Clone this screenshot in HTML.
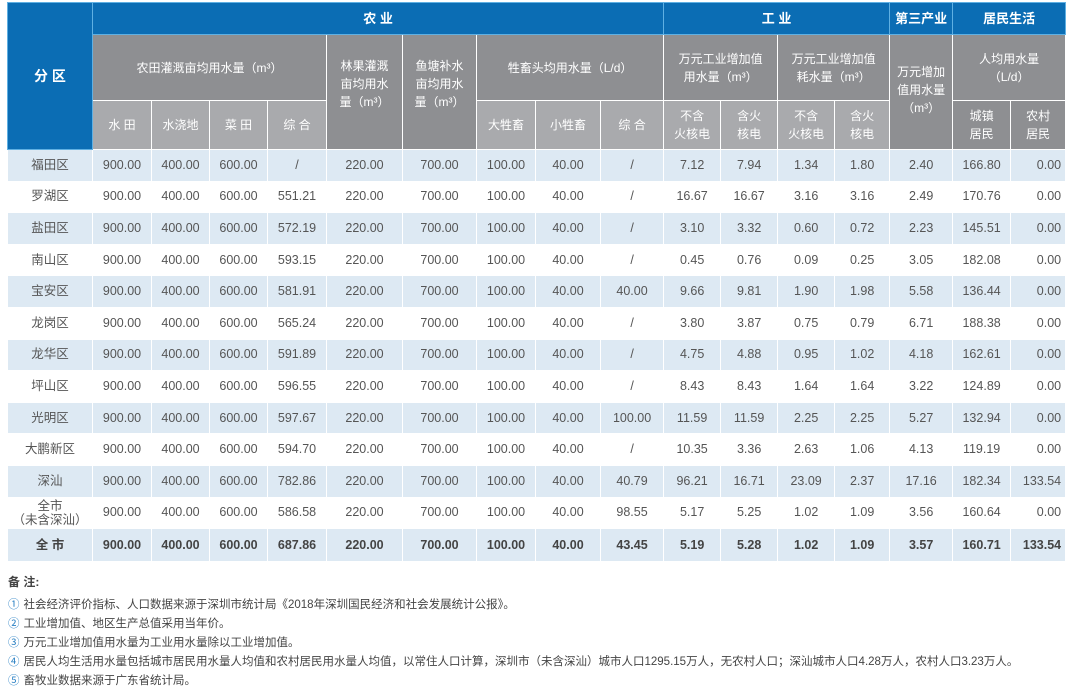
<!DOCTYPE html>
<html><head><meta charset="utf-8"><style>
body{margin:0;width:1080px;height:683px;background:#fff;overflow:hidden;font-family:"Liberation Sans","Noto Sans CJK SC",sans-serif;}
table{position:absolute;left:7px;top:2px;border-collapse:collapse;table-layout:fixed;width:1058px;}
td{padding:0;text-align:center;font-size:12.5px;color:#555;border:1px solid #fff;line-height:15px;}
.b{background:#0b6db4;color:#fff;font-weight:bold;font-size:13px;border-color:#5fb0e3;}
.d{background:#8e8f92;color:#fff;font-size:12px;line-height:18px;}
.l{background:#a9aaad;color:#fff;font-size:12px;line-height:18px;}
tr.h1{height:32px}tr.h2{height:66px}tr.h3{height:49px}
tr.r{height:31.6px}
tr.a td{background:#dde9f3;}
tr.t td{font-weight:bold;color:#444;}
td.rt{text-align:right;padding-right:4px}
.notes{position:absolute;left:8px;top:572px;font-size:11.5px;color:#444;}
.notes div{height:19px;line-height:19px;white-space:nowrap}
.notes .n{color:#2a80c4;margin-right:4px}
.notes .hd{font-weight:bold;font-size:12px;height:24px;line-height:20px}
</style></head><body>
<table>
<colgroup><col style="width:85px"><col style="width:59px"><col style="width:58px"><col style="width:58px"><col style="width:59px"><col style="width:76px"><col style="width:74px"><col style="width:59px"><col style="width:65px"><col style="width:63px"><col style="width:57px"><col style="width:57px"><col style="width:57px"><col style="width:55px"><col style="width:63px"><col style="width:58px"><col style="width:55px"></colgroup>
<tr class="h1"><td class="b" rowspan="3" style="font-size:14px">分 区</td><td class="b" colspan="9">农 业</td><td class="b" colspan="4">工 业</td><td class="b">第三产业</td><td class="b" colspan="2">居民生活</td></tr>
<tr class="h2"><td class="d" colspan="4">农田灌溉亩均用水量（m³）</td><td class="d" rowspan="2" style="vertical-align:top;padding-top:22px">林果灌溉<br>亩均用水<br>量（m³）</td><td class="d" rowspan="2" style="vertical-align:top;padding-top:22px">鱼塘补水<br>亩均用水<br>量（m³）</td><td class="d" colspan="3">牲畜头均用水量（L/d）</td><td class="d" colspan="2">万元工业增加值<br>用水量（m³）</td><td class="d" colspan="2">万元工业增加值<br>耗水量（m³）</td><td class="d" rowspan="2" style="vertical-align:top;padding-top:28px">万元增加<br>值用水量<br>（m³）</td><td class="d" colspan="2">人均用水量<br>（L/d）</td></tr>
<tr class="h3"><td class="l">水 田</td><td class="l">水浇地</td><td class="l">菜 田</td><td class="l">综 合</td><td class="l">大牲畜</td><td class="l">小牲畜</td><td class="l">综 合</td><td class="l">不含<br>火核电</td><td class="l">含火<br>核电</td><td class="l">不含<br>火核电</td><td class="l">含火<br>核电</td><td class="d">城镇<br>居民</td><td class="d">农村<br>居民</td></tr>
<tr class="r a"><td>福田区</td><td>900.00</td><td>400.00</td><td>600.00</td><td>/</td><td>220.00</td><td>700.00</td><td>100.00</td><td>40.00</td><td>/</td><td>7.12</td><td>7.94</td><td>1.34</td><td>1.80</td><td>2.40</td><td>166.80</td><td class="rt">0.00</td></tr>
<tr class="r"><td>罗湖区</td><td>900.00</td><td>400.00</td><td>600.00</td><td>551.21</td><td>220.00</td><td>700.00</td><td>100.00</td><td>40.00</td><td>/</td><td>16.67</td><td>16.67</td><td>3.16</td><td>3.16</td><td>2.49</td><td>170.76</td><td class="rt">0.00</td></tr>
<tr class="r a"><td>盐田区</td><td>900.00</td><td>400.00</td><td>600.00</td><td>572.19</td><td>220.00</td><td>700.00</td><td>100.00</td><td>40.00</td><td>/</td><td>3.10</td><td>3.32</td><td>0.60</td><td>0.72</td><td>2.23</td><td>145.51</td><td class="rt">0.00</td></tr>
<tr class="r"><td>南山区</td><td>900.00</td><td>400.00</td><td>600.00</td><td>593.15</td><td>220.00</td><td>700.00</td><td>100.00</td><td>40.00</td><td>/</td><td>0.45</td><td>0.76</td><td>0.09</td><td>0.25</td><td>3.05</td><td>182.08</td><td class="rt">0.00</td></tr>
<tr class="r a"><td>宝安区</td><td>900.00</td><td>400.00</td><td>600.00</td><td>581.91</td><td>220.00</td><td>700.00</td><td>100.00</td><td>40.00</td><td>40.00</td><td>9.66</td><td>9.81</td><td>1.90</td><td>1.98</td><td>5.58</td><td>136.44</td><td class="rt">0.00</td></tr>
<tr class="r"><td>龙岗区</td><td>900.00</td><td>400.00</td><td>600.00</td><td>565.24</td><td>220.00</td><td>700.00</td><td>100.00</td><td>40.00</td><td>/</td><td>3.80</td><td>3.87</td><td>0.75</td><td>0.79</td><td>6.71</td><td>188.38</td><td class="rt">0.00</td></tr>
<tr class="r a"><td>龙华区</td><td>900.00</td><td>400.00</td><td>600.00</td><td>591.89</td><td>220.00</td><td>700.00</td><td>100.00</td><td>40.00</td><td>/</td><td>4.75</td><td>4.88</td><td>0.95</td><td>1.02</td><td>4.18</td><td>162.61</td><td class="rt">0.00</td></tr>
<tr class="r"><td>坪山区</td><td>900.00</td><td>400.00</td><td>600.00</td><td>596.55</td><td>220.00</td><td>700.00</td><td>100.00</td><td>40.00</td><td>/</td><td>8.43</td><td>8.43</td><td>1.64</td><td>1.64</td><td>3.22</td><td>124.89</td><td class="rt">0.00</td></tr>
<tr class="r a"><td>光明区</td><td>900.00</td><td>400.00</td><td>600.00</td><td>597.67</td><td>220.00</td><td>700.00</td><td>100.00</td><td>40.00</td><td>100.00</td><td>11.59</td><td>11.59</td><td>2.25</td><td>2.25</td><td>5.27</td><td>132.94</td><td class="rt">0.00</td></tr>
<tr class="r"><td>大鹏新区</td><td>900.00</td><td>400.00</td><td>600.00</td><td>594.70</td><td>220.00</td><td>700.00</td><td>100.00</td><td>40.00</td><td>/</td><td>10.35</td><td>3.36</td><td>2.63</td><td>1.06</td><td>4.13</td><td>119.19</td><td class="rt">0.00</td></tr>
<tr class="r a"><td>深汕</td><td>900.00</td><td>400.00</td><td>600.00</td><td>782.86</td><td>220.00</td><td>700.00</td><td>100.00</td><td>40.00</td><td>40.79</td><td>96.21</td><td>16.71</td><td>23.09</td><td>2.37</td><td>17.16</td><td>182.34</td><td class="rt">133.54</td></tr>
<tr class="r"><td style="line-height:14px">全市<br>（未含深汕）</td><td>900.00</td><td>400.00</td><td>600.00</td><td>586.58</td><td>220.00</td><td>700.00</td><td>100.00</td><td>40.00</td><td>98.55</td><td>5.17</td><td>5.25</td><td>1.02</td><td>1.09</td><td>3.56</td><td>160.64</td><td class="rt">0.00</td></tr>
<tr class="r a t" style="height:33px"><td>全 市</td><td>900.00</td><td>400.00</td><td>600.00</td><td>687.86</td><td>220.00</td><td>700.00</td><td>100.00</td><td>40.00</td><td>43.45</td><td>5.19</td><td>5.28</td><td>1.02</td><td>1.09</td><td>3.57</td><td>160.71</td><td class="rt">133.54</td></tr>
</table>
<div class="notes">
<div class="hd">备 注:</div>
<div><span class="n">①</span>社会经济评价指标、人口数据来源于深圳市统计局《2018年深圳国民经济和社会发展统计公报》。</div>
<div><span class="n">②</span>工业增加值、地区生产总值采用当年价。</div>
<div><span class="n">③</span>万元工业增加值用水量为工业用水量除以工业增加值。</div>
<div><span class="n">④</span>居民人均生活用水量包括城市居民用水量人均值和农村居民用水量人均值，以常住人口计算，深圳市（未含深汕）城市人口1295.15万人，无农村人口；深汕城市人口4.28万人，农村人口3.23万人。</div>
<div><span class="n">⑤</span>畜牧业数据来源于广东省统计局。</div>
</div>
</body></html>
